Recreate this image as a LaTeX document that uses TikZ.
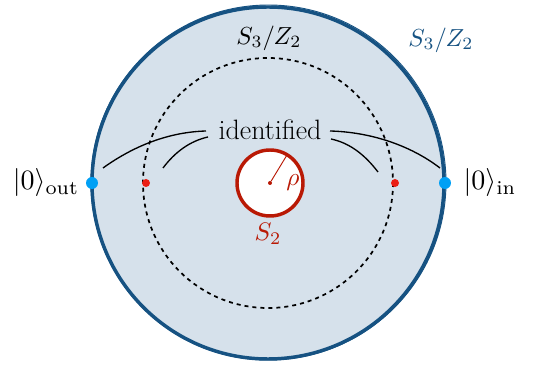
\documentclass[tikz,border=0pt]{standalone}
\usepackage{amsmath}
\usepackage{graphicx}
\definecolor{diskfill}{RGB}{214,225,235}
\definecolor{diskborder}{RGB}{22,82,130}
\definecolor{dotblue}{RGB}{0,160,245}
\definecolor{dotred}{RGB}{235,30,20}
\definecolor{holered}{RGB}{185,25,5}
\newcommand{\scaledmath}[2]{\scalebox{#1}{$#2$}}
\tikzset{
  lbl/.style={inner sep=0pt},
  bdot/.style={circle, fill=dotblue, inner sep=0pt, minimum size=9pt},
  rdot/.style={circle, fill=dotred, inner sep=0pt, minimum size=6pt},
  arc/.style={line width=1pt, black},
}
\begin{document}
\begin{tikzpicture}[x=0.75pt,y=-0.75pt]
\useasboundingbox (0,0) rectangle (537,370);
% big disk
\coordinate (c) at (268,183);
\fill[diskfill] (c) circle (176);
\draw[diskborder, line width=2.6pt] (c) circle (176);
\draw[diskborder, line width=0.7pt] (268.5,182.5) circle (177.5);
% dotted circle
\draw[line width=1.3pt, dash pattern=on 3pt off 3pt] (c) circle (125);
% hole
\draw[holered, fill=white, line width=2.6pt] (270,183) circle (33);
\node[circle, fill=holered, inner sep=0pt, minimum size=3pt] (hc) at (270,183) {};
\coordinate (hr) at (287,155);
\draw[holered, line width=0.7pt] (hc) -- (hr);
\node[lbl, text=holered] (rho) at (293,183) {\scaledmath{1.9}{\rho}};
\node[lbl, text=holered] (s2) at (268,234) {\scaledmath{1.9}{S_2}};
% points
\node[bdot] (pout) at (92,183) {};
\node[bdot] (pin) at (445,183) {};
\node[rdot] (rl) at (146,183) {};
\node[rdot] (rr) at (395,183) {};
% labels
\node[lbl] (s3a) at (269,38) {\scaledmath{1.85}{S_3/Z_2}};
\node[lbl, text=diskborder] (s3b) at (441,40) {\scaledmath{1.85}{S_3/Z_2}};
\node[lbl] (out) at (46,183) {\scaledmath{2.1}{|0\rangle_{\text{out}}}};
\node[lbl] (in) at (490,183) {\scaledmath{2.1}{|0\rangle_{\text{in}}}};
\node[lbl, font=\fontsize{21}{24}\selectfont] (id) at (270,130) {identified};
% connectors
\coordinate (l1a) at (103,168);
\coordinate (l1b) at (206,131);
\coordinate (l2a) at (163,168);
\coordinate (l2b) at (208,137);
\coordinate (r1a) at (330,131);
\coordinate (r1b) at (440,168);
\coordinate (r2a) at (331,139);
\coordinate (r2b) at (378,172);
\draw[arc] (l1a) .. controls (135,145) and (170,132) .. (l1b);
\draw[arc] (l2a) .. controls (175,152) and (190,141) .. (l2b);
\draw[arc] (r1a) .. controls (370,132) and (410,145) .. (r1b);
\draw[arc] (r2a) .. controls (350,143) and (365,155) .. (r2b);
\end{tikzpicture}
\end{document}
